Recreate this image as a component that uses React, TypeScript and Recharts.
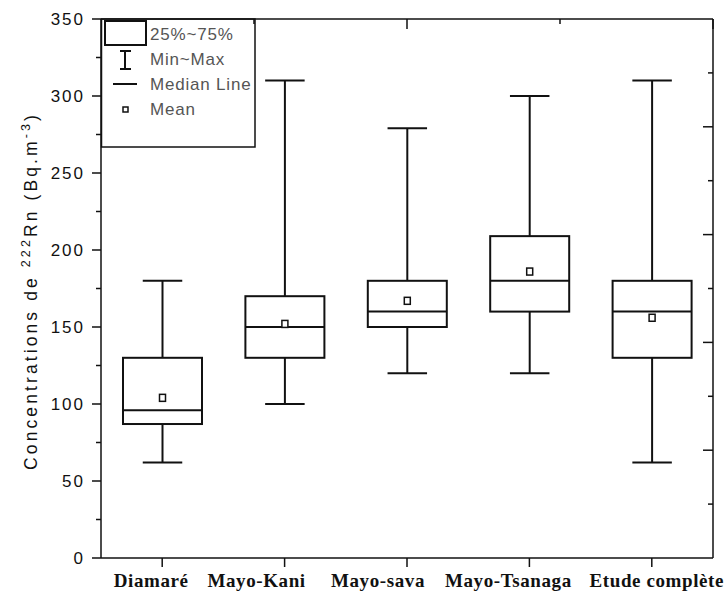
import { ComposedChart, Bar, XAxis, YAxis } from "recharts";

const categories = ["Diamaré", "Mayo-Kani", "Mayo-sava", "Mayo-Tsanaga", "Etude complète"];
const minValues = [62, 100, 120, 120, 62];
const q1Values = [87, 130, 150, 160, 130];
const medianValues = [96, 150, 160, 180, 160];
const q3Values = [130, 170, 180, 209, 180];
const maxValues = [180, 310, 279, 300, 310];
const meanValues = [104, 152, 167, 186, 156];

const yTicks = [0, 25, 50, 75, 100, 125, 150, 175, 200, 225, 250, 275, 300, 325, 350];
const frameTicks = [1, 2, 3, 4, 5, 6, 7, 8, 9];

const legendItems = ["25%~75%", "Min~Max", "Median Line", "Mean"];

// the category labels in the original sit a little left of their ticks
const labelNudge = [-11, -28, -29, -21, 5];

const data = categories.map((name, i) => ({
  name,
  min: minValues[i],
  q1: q1Values[i],
  median: medianValues[i],
  q3: q3Values[i],
  max: maxValues[i],
  mean: meanValues[i],
}));

const INK = "#111";
const SANS = "'Liberation Sans', Arial, sans-serif";
const SERIF = "'Liberation Serif', 'Times New Roman', serif";

function BoxShape(props: any) {
  const { x, y, width, height, payload } = props;
  const top = Math.min(y, y + height);
  const h = Math.abs(height);
  const k = h / (payload.max - payload.min);
  const py = (v: number) => top + (payload.max - v) * k;
  const cx = x + width / 2;
  const cap = width / 4;

  return (
    <g stroke={INK} strokeWidth={2} fill="none">
      <line x1={cx} x2={cx} y1={py(payload.max)} y2={py(payload.q3)} />
      <line x1={cx} x2={cx} y1={py(payload.q1)} y2={py(payload.min)} />
      <line x1={cx - cap} x2={cx + cap} y1={py(payload.max)} y2={py(payload.max)} />
      <line x1={cx - cap} x2={cx + cap} y1={py(payload.min)} y2={py(payload.min)} />
      <rect
        x={x}
        y={py(payload.q3)}
        width={width}
        height={py(payload.q1) - py(payload.q3)}
        fill="#fff"
      />
      <line x1={x} x2={x + width} y1={py(payload.median)} y2={py(payload.median)} />
      <rect
        x={cx - 3}
        y={py(payload.mean) - 3.5}
        width={6}
        height={7}
        strokeWidth={1.5}
        fill="#fff"
      />
    </g>
  );
}

function LeftTick(props: any) {
  const { x, y, payload } = props;
  const major = payload.value % 50 === 0;
  return (
    <g>
      <line x1={x - (major ? 9 : 5)} x2={x} y1={y} y2={y} stroke={INK} strokeWidth={1.5} />
      {major && (
        <text
          x={x - 16}
          y={y}
          textAnchor="end"
          dominantBaseline="central"
          fontFamily={SANS}
          fontSize={17}
          letterSpacing={2}
          fill={INK}
        >
          {payload.value}
        </text>
      )}
    </g>
  );
}

function RightTick(props: any) {
  const { x, y, payload } = props;
  const major = payload.value % 2 === 0;
  return <line x1={x - (major ? 10 : 5)} x2={x} y1={y} y2={y} stroke={INK} strokeWidth={1.5} />;
}

function TopTick(props: any) {
  const { x, y, payload } = props;
  const major = payload.value % 2 === 0;
  return <line x1={x} x2={x} y1={y} y2={y + (major ? 10 : 5)} stroke={INK} strokeWidth={1.5} />;
}

function BottomTick(props: any) {
  const { x, y, payload, index } = props;
  return (
    <g>
      <line x1={x} x2={x} y1={y} y2={y + 9} stroke={INK} strokeWidth={1.5} />
      <text
        x={x + (labelNudge[index] ?? 0)}
        y={y + 29}
        textAnchor="middle"
        fontFamily={SERIF}
        fontWeight="bold"
        fontSize={19}
        letterSpacing={0.6}
        fill={INK}
      >
        {payload.value}
      </text>
    </g>
  );
}

function Overlay() {
  const textY = [34, 59, 84, 109];
  return (
    <svg
      width={724}
      height={596}
      style={{ position: "absolute", left: 0, top: 0, pointerEvents: "none" }}
    >
      {/* y axis title */}
      <text
        transform="rotate(-90, 37, 291)"
        x={37}
        y={291}
        textAnchor="middle"
        fontFamily={SANS}
        fontSize={17.5}
        letterSpacing={3.1}
        fill={INK}
      >
        Concentrations de{" "}
        <tspan dy={-7} fontSize={12.5}>222</tspan>
        <tspan dy={7}>Rn (Bq.m</tspan>
        <tspan dy={-7} fontSize={12.5}>-3</tspan>
        <tspan dy={7}>)</tspan>
      </text>

      {/* legend */}
      <rect x={101.5} y={19} width={153.5} height={128} fill="none" stroke={INK} strokeWidth={1.5} />
      <rect x={105} y={21} width={41} height={24} fill="none" stroke={INK} strokeWidth={2} />
      <g stroke={INK} strokeWidth={2}>
        <line x1={125} x2={125} y1={51} y2={69} />
        <line x1={120} x2={131} y1={51} y2={51} />
        <line x1={120} x2={131} y1={69} y2={69} />
        <line x1={113} x2={137} y1={84} y2={84} />
      </g>
      <rect x={123} y={107} width={5} height={5} fill="none" stroke={INK} strokeWidth={1.5} />
      {legendItems.map((label, i) => (
        <text
          key={label}
          x={150}
          y={textY[i]}
          dominantBaseline="central"
          fontFamily={SANS}
          fontSize={17}
          letterSpacing={0.8}
          fill="#555"
        >
          {label}
        </text>
      ))}
    </svg>
  );
}

export default function App() {
  return (
    <div
      style={{
        position: "absolute",
        left: 0,
        top: 0,
        width: 724,
        height: 596,
        background: "#fff",
      }}
    >
      <ComposedChart
        width={724}
        height={596}
        data={data}
        margin={{ top: 19, right: 11, bottom: 0, left: 0 }}
      >
        <XAxis
          xAxisId="bottom"
          dataKey="name"
          type="category"
          height={38}
          interval={0}
          tickSize={0}
          tickMargin={0}
          tickLine={false}
          axisLine={{ stroke: INK, strokeWidth: 1.5 }}
          tick={BottomTick}
        />
        <XAxis
          xAxisId="top"
          orientation="top"
          mirror
          type="number"
          domain={[0, 10]}
          ticks={frameTicks}
          allowDataOverflow
          height={10}
          interval={0}
          tickSize={0}
          tickMargin={0}
          tickLine={false}
          axisLine={{ stroke: INK, strokeWidth: 1.5 }}
          tick={TopTick}
        />
        <YAxis
          yAxisId="left"
          domain={[0, 350]}
          ticks={yTicks}
          allowDataOverflow
          width={101}
          interval={0}
          tickSize={0}
          tickMargin={0}
          tickLine={false}
          axisLine={{ stroke: INK, strokeWidth: 1.5 }}
          tick={LeftTick}
        />
        <YAxis
          yAxisId="right"
          orientation="right"
          mirror
          domain={[0, 10]}
          ticks={frameTicks}
          allowDataOverflow
          width={11}
          interval={0}
          tickSize={0}
          tickMargin={0}
          tickLine={false}
          axisLine={{ stroke: INK, strokeWidth: 1.5 }}
          tick={RightTick}
        />
        <Bar
          xAxisId="bottom"
          yAxisId="left"
          dataKey={(d: any) => [d.min, d.max]}
          barSize={79}
          shape={BoxShape}
          isAnimationActive={false}
        />
      </ComposedChart>
      <Overlay />
    </div>
  );
}
